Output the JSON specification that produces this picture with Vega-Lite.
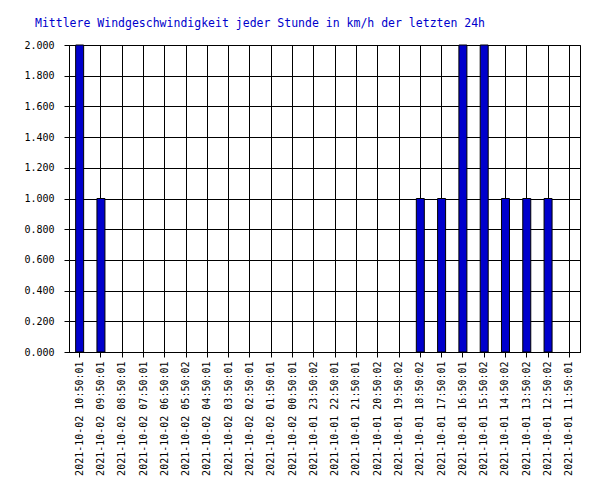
{
  "$schema": "https://vega.github.io/schema/vega-lite/v6.json",
  "autosize": "none",
  "width": 511,
  "height": 307,
  "padding": {"left": 69, "top": 45, "right": 20, "bottom": 148},
  "background": "white",
  "title": {
    "text": "Mittlere Windgeschwindigkeit jeder Stunde in km/h der letzten 24h",
    "font": "DejaVu Sans Mono",
    "fontSize": 11.5,
    "fontWeight": "normal",
    "color": "#0000cc",
    "anchor": "start",
    "frame": "group",
    "offset": 11,
    "dx": -34
  },
  "config": {
    "view": {"stroke": "black", "strokeWidth": 1},
    "axis": {
      "labelFont": "DejaVu Sans Mono",
      "labelFontSize": 10,
      "labelColor": "black",
      "domainColor": "black",
      "tickColor": "black",
      "gridColor": "black",
      "gridOpacity": 1,
      "gridWidth": 1,
      "domainWidth": 1,
      "tickWidth": 1,
      "title": null
    }
  },
  "data": {
    "values": [
      {"t": "2021-10-02 10:50:01", "v": 2},
      {"t": "2021-10-02 09:50:01", "v": 1},
      {"t": "2021-10-02 08:50:01", "v": 0},
      {"t": "2021-10-02 07:50:01", "v": 0},
      {"t": "2021-10-02 06:50:01", "v": 0},
      {"t": "2021-10-02 05:50:02", "v": 0},
      {"t": "2021-10-02 04:50:01", "v": 0},
      {"t": "2021-10-02 03:50:01", "v": 0},
      {"t": "2021-10-02 02:50:01", "v": 0},
      {"t": "2021-10-02 01:50:01", "v": 0},
      {"t": "2021-10-02 00:50:01", "v": 0},
      {"t": "2021-10-01 23:50:02", "v": 0},
      {"t": "2021-10-01 22:50:01", "v": 0},
      {"t": "2021-10-01 21:50:01", "v": 0},
      {"t": "2021-10-01 20:50:02", "v": 0},
      {"t": "2021-10-01 19:50:02", "v": 0},
      {"t": "2021-10-01 18:50:02", "v": 1},
      {"t": "2021-10-01 17:50:01", "v": 1},
      {"t": "2021-10-01 16:50:01", "v": 2},
      {"t": "2021-10-01 15:50:02", "v": 2},
      {"t": "2021-10-01 14:50:02", "v": 1},
      {"t": "2021-10-01 13:50:02", "v": 1},
      {"t": "2021-10-01 12:50:02", "v": 1},
      {"t": "2021-10-01 11:50:01", "v": 0}
    ]
  },
  "mark": {"type": "bar", "width": 8, "color": "#0000cc", "stroke": "black", "strokeWidth": 1},
  "encoding": {
    "x": {
      "field": "t",
      "type": "nominal",
      "sort": null,
      "scale": {"paddingInner": 0, "paddingOuter": 0},
      "axis": {"labelAngle": -90, "tickSize": 5, "labelPadding": 4, "grid": true, "bandPosition": 0.5}
    },
    "y": {
      "field": "v",
      "type": "quantitative",
      "scale": {"domain": [0, 2], "nice": false},
      "axis": {"values": [0, 0.2, 0.4, 0.6, 0.8, 1.0, 1.2, 1.4, 1.6, 1.8, 2.0], "format": ".3f", "tickSize": 5, "labelPadding": 10, "grid": true}
    },
    "strokeOpacity": {"condition": {"test": "datum.v > 0", "value": 1}, "value": 0}
  }
}
